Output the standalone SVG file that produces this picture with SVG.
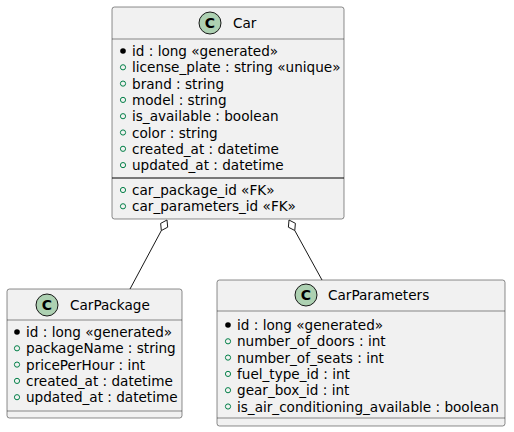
<svg xmlns="http://www.w3.org/2000/svg" width="514" height="432" viewBox="0 0 514 432">
<style>
.box{fill:#F1F1F1;stroke:#181818;stroke-width:0.5}
.sep{stroke:#181818;stroke-width:0.5}
.sepd{stroke:#000;stroke-width:1}
.ci{fill:#ADD1B2;stroke:#181818;stroke-width:1}
.cl{font-family:"DejaVu Sans",sans-serif;font-size:14px;font-weight:bold;fill:#000;text-anchor:middle}
.t{font-family:"DejaVu Sans",sans-serif;font-size:13.6px;fill:#000}
.h{font-family:"DejaVu Sans",sans-serif;font-size:13.6px;fill:#000}
.pub{fill:none;stroke:#038048;stroke-width:1}
.dot{fill:#000}
.ln{stroke:#181818;stroke-width:1;fill:none}
.dia{fill:#fff;stroke:#181818;stroke-width:1}
</style>
<g id="connectors">
<line class="ln" x1="161.33" y1="230.57" x2="130" y2="289"/>
<polygon class="dia" points="167,220 167.69,227.18 161.33,230.57 160.65,223.40"/>
<line class="ln" x1="294.78" y1="230.51" x2="322" y2="280"/>
<polygon class="dia" points="289,220 295.39,223.33 294.78,230.51 288.39,227.19"/>
</g>
<g id="Car">
<rect class="box" x="112" y="7" width="232" height="212" rx="2.5"/>
<circle class="ci" cx="210" cy="23" r="11"/>
<text class="cl" x="210" y="28">C</text>
<text class="h" x="233" y="28">Car</text>
<line class="sep" x1="112" y1="39" x2="344" y2="39"/>
<circle class="dot" cx="123" cy="51" r="2.8"/>
<text class="t" x="132" y="56">id : long «generated»</text>
<circle class="pub" cx="123" cy="67.3" r="2.6"/>
<text class="t" x="132" y="72.3">license_plate : string «unique»</text>
<circle class="pub" cx="123" cy="83.6" r="2.6"/>
<text class="t" x="132" y="88.6">brand : string</text>
<circle class="pub" cx="123" cy="99.9" r="2.6"/>
<text class="t" x="132" y="104.9">model : string</text>
<circle class="pub" cx="123" cy="116.2" r="2.6"/>
<text class="t" x="132" y="121.2">is_available : boolean</text>
<circle class="pub" cx="123" cy="132.5" r="2.6"/>
<text class="t" x="132" y="137.5">color : string</text>
<circle class="pub" cx="123" cy="148.8" r="2.6"/>
<text class="t" x="132" y="153.8">created_at : datetime</text>
<circle class="pub" cx="123" cy="165.1" r="2.6"/>
<text class="t" x="132" y="170.1">updated_at : datetime</text>
<line class="sepd" x1="112" y1="178" x2="344" y2="178"/>
<circle class="pub" cx="123" cy="190" r="2.6"/>
<text class="t" x="132" y="195">car_package_id «FK»</text>
<circle class="pub" cx="123" cy="206.3" r="2.6"/>
<text class="t" x="132" y="211.3">car_parameters_id «FK»</text>
</g>
<g id="CarPackage">
<rect class="box" x="7" y="289" width="175" height="129" rx="2.5"/>
<circle class="ci" cx="47" cy="305" r="11"/>
<text class="cl" x="47" y="310">C</text>
<text class="h" x="70" y="310">CarPackage</text>
<line class="sep" x1="7" y1="320" x2="182" y2="320"/>
<circle class="dot" cx="17" cy="332" r="2.8"/>
<text class="t" x="26" y="337">id : long «generated»</text>
<circle class="pub" cx="17" cy="348.3" r="2.6"/>
<text class="t" x="26" y="353.3">packageName : string</text>
<circle class="pub" cx="17" cy="364.6" r="2.6"/>
<text class="t" x="26" y="369.6">pricePerHour : int</text>
<circle class="pub" cx="17" cy="380.9" r="2.6"/>
<text class="t" x="26" y="385.9">created_at : datetime</text>
<circle class="pub" cx="17" cy="397.2" r="2.6"/>
<text class="t" x="26" y="402.2">updated_at : datetime</text>
<line class="sep" x1="7" y1="411" x2="182" y2="411"/>
</g>
<g id="CarParameters">
<rect class="box" x="217" y="280" width="288" height="146" rx="2.5"/>
<circle class="ci" cx="306" cy="295" r="11"/>
<text class="cl" x="306" y="300">C</text>
<text class="h" x="328" y="300">CarParameters</text>
<line class="sep" x1="217" y1="311" x2="505" y2="311"/>
<circle class="dot" cx="228" cy="325" r="2.8"/>
<text class="t" x="237" y="330">id : long «generated»</text>
<circle class="pub" cx="228" cy="341.3" r="2.6"/>
<text class="t" x="237" y="346.3">number_of_doors : int</text>
<circle class="pub" cx="228" cy="357.6" r="2.6"/>
<text class="t" x="237" y="362.6">number_of_seats : int</text>
<circle class="pub" cx="228" cy="373.9" r="2.6"/>
<text class="t" x="237" y="378.9">fuel_type_id : int</text>
<circle class="pub" cx="228" cy="390.2" r="2.6"/>
<text class="t" x="237" y="395.2">gear_box_id : int</text>
<circle class="pub" cx="228" cy="406.5" r="2.6"/>
<text class="t" x="237" y="411.5">is_air_conditioning_available : boolean</text>
<line class="sep" x1="217" y1="418" x2="505" y2="418"/>
</g>
</svg>
